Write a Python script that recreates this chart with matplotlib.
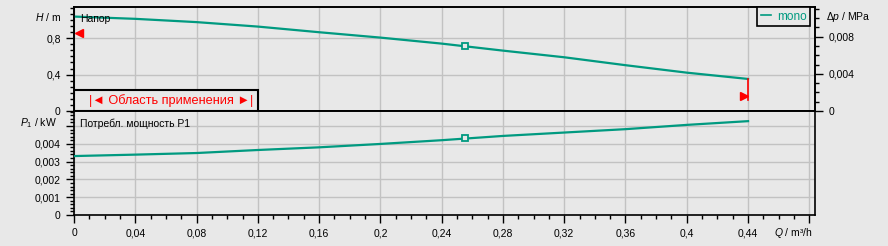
import matplotlib
matplotlib.use("Agg")
import matplotlib.pyplot as plt
from matplotlib.ticker import MultipleLocator, FuncFormatter
from matplotlib.patches import Rectangle
from matplotlib.lines import Line2D

plt.rcParams['font.family'] = ['Liberation Sans', 'DejaVu Sans']
plt.rcParams['mathtext.fontset'] = 'custom'
plt.rcParams['mathtext.rm'] = 'Liberation Sans'
plt.rcParams['mathtext.it'] = 'Liberation Sans:italic'

# данные кривых
q = [0, 0.04, 0.08, 0.12, 0.16, 0.2, 0.24, 0.28, 0.32, 0.36, 0.4, 0.44]
head = [1.037, 1.012, 0.976, 0.927, 0.865, 0.806, 0.74, 0.663, 0.59, 0.503, 0.421, 0.352]
power = [0.00331, 0.00339, 0.00348, 0.00365, 0.0038, 0.00399, 0.0042,
         0.00444, 0.00463, 0.00482, 0.00506, 0.00527]

# рабочая точка
duty_q = 0.2555
duty_h = 0.715
duty_p = 0.00435

# границы области применения
range_q = [0, 0.44]
range_marker_h = [0.86, 0.165]

BG = '#e8e8e8'
GRID = '#c2c2c2'
TEAL = '#009a80'
RED = '#ff0000'

W, H = 888, 246
q_max = 0.4837
h_max = 1.142
p_max = 0.00584
rho_g = 0.00980665  # MPa per m


def px_box(x0, y0, x1, y1):
    return [x0 / W, 1 - y1 / H, (x1 - x0) / W, (y1 - y0) / H]


def ftext(x, y, s, **kw):
    kw.setdefault('fontsize', 7.5)
    kw.setdefault('va', 'center')
    fig.text(x / W, 1 - y / H, s, **kw)


def comma(skip=None):
    def f(v, pos):
        v = round(v, 6)
        if skip is not None and abs(v - skip) < 1e-9:
            return ''
        return f'{v:g}'.replace('.', ',')
    return FuncFormatter(f)


fig = plt.figure(figsize=(8.88, 2.46), dpi=100, facecolor=BG)
ax1 = fig.add_axes(px_box(74, 7, 815, 111), facecolor=BG)
ax2 = fig.add_axes(px_box(74, 111, 815, 215), facecolor=BG)

for ax in (ax1, ax2):
    ax.set_xlim(0, q_max)
    ax.xaxis.set_major_locator(MultipleLocator(0.04))
    ax.xaxis.set_minor_locator(MultipleLocator(0.01))
    ax.grid(True, which='major', color=GRID, lw=1)
    ax.set_axisbelow(True)
    for s in ax.spines.values():
        s.set_color('black')
        s.set_linewidth(1.2)
    ax.tick_params(which='major', direction='out', length=5.5, width=1, labelsize=7.5, pad=4)
    ax.tick_params(which='minor', direction='out', length=3, width=1)

# верхняя панель: напор
ax1.set_ylim(0, h_max)
ax1.yaxis.set_major_locator(MultipleLocator(0.4))
ax1.yaxis.set_minor_locator(MultipleLocator(0.4 / 6))
ax1.yaxis.set_major_formatter(comma())
ax1.tick_params(axis='x', which='both', bottom=False, labelbottom=False)
ax1.plot(q, head, color=TEAL, lw=1.6, zorder=3)
ax1.plot(duty_q, duty_h, marker='s', ms=4.5, mfc=BG, mec=TEAL, mew=1.3, zorder=4)

ax1.add_patch(Rectangle((0, 0), 0.12, 0.231, facecolor=BG, edgecolor='black', lw=1.5, zorder=5))
ax1.text(0.0632, 0.112, '|◄ Область применения ►|', color=RED, fontsize=9.2,
         ha='center', va='center', zorder=6)
ax1.plot(range_q[0] + 0.0033, range_marker_h[0], marker='<', color=RED, ms=6, zorder=6, clip_on=False)
ax1.plot(range_q[1] - 0.0027, range_marker_h[1], marker='>', color=RED, ms=6, zorder=6)
ax1.plot([range_q[1], range_q[1]], [0.12, head[-1]], color=RED, lw=1.2, zorder=6)

# правая ось: перепад давления
ax1r = ax1.twinx()
ax1r.set_ylim(0, h_max * rho_g)
ax1r.yaxis.set_major_locator(MultipleLocator(0.004))
ax1r.yaxis.set_minor_locator(MultipleLocator(0.001))
ax1r.yaxis.set_major_formatter(comma())
ax1r.tick_params(which='major', direction='out', length=5.5, width=1, labelsize=7.5, pad=4)
ax1r.tick_params(which='minor', direction='out', length=3, width=1)
for s in ax1r.spines.values():
    s.set_color('black')
    s.set_linewidth(1.2)

leg = ax1r.legend(handles=[Line2D([], [], color=TEAL, lw=1.2)], labels=['mono'],
                  loc='upper right', bbox_to_anchor=((810 - 74) / 741, 1.0),
                  borderaxespad=0, fontsize=8.5, labelcolor=TEAL, fancybox=False,
                  framealpha=1, facecolor=BG, edgecolor='black',
                  handlelength=0.9, handletextpad=0.45, borderpad=0.3)
leg.get_frame().set_linewidth(1.2)

# нижняя панель: мощность
ax2.set_ylim(0, p_max)
ax2.yaxis.set_major_locator(MultipleLocator(0.001))
ax2.yaxis.set_minor_locator(MultipleLocator(0.0002))
ax2.yaxis.set_major_formatter(comma(skip=0.005))
ax2.xaxis.set_major_formatter(comma(skip=0.48))
ax2.plot(q, power, color=TEAL, lw=1.6, zorder=3)
ax2.plot(duty_q, duty_p, marker='s', ms=4.5, mfc=BG, mec=TEAL, mew=1.3, zorder=4)

# подписи
ftext(61, 17, '$H$ / m', ha='right')
ftext(826, 17, r'$\Delta p$ / MPa', ha='left')
ftext(57, 123, '$P_1$ / kW', ha='right')
ftext(813, 233, '$Q$ / m³/h', ha='right')
ftext(80, 19.5, 'Напор', ha='left')
ftext(80, 124, 'Потребл. мощность P1', ha='left')

fig.savefig('out.png', dpi=100, facecolor=BG)
